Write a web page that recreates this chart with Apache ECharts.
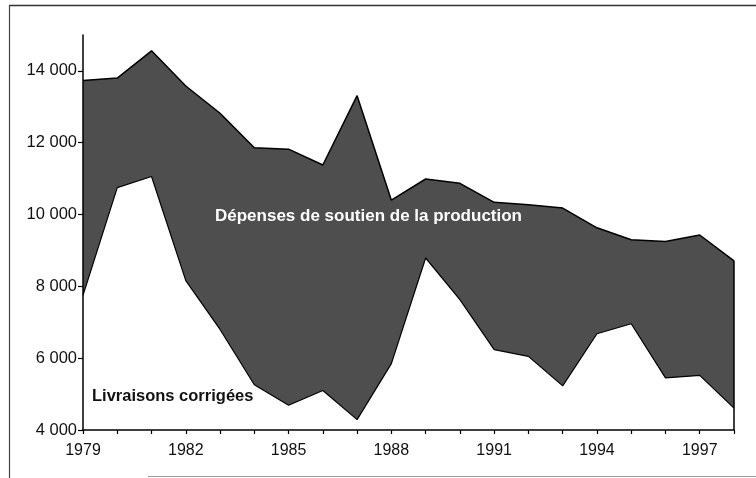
<!DOCTYPE html>
<html>
<head>
<meta charset="utf-8">
<script src="https://cdn.jsdelivr.net/npm/echarts@6/dist/echarts.min.js"></script>
<style>
  html, body { margin: 0; padding: 0; background: #fff; }
  #chart { width: 756px; height: 478px; }
</style>
</head>
<body>
<div id="chart"></div>
<script>
// Years on the horizontal axis
const years = ['1979','1980','1981','1982','1983','1984','1985','1986','1987','1988',
               '1989','1990','1991','1992','1993','1994','1995','1996','1997','1998'];

// Upper envelope: livraisons corrigées + dépenses de soutien de la production
const totalValues = [13730, 13800, 14560, 13580, 12820, 11860, 11820, 11380, 13310, 10400,
                     10990, 10870, 10340, 10270, 10180, 9630, 9300, 9250, 9430, 8710];

// Lower envelope: livraisons corrigées
const livraisons = [7750, 10750, 11060, 8160, 6800, 5260, 4690, 5100, 4290, 5850,
                    8790, 7630, 6240, 6050, 5230, 6680, 6960, 5450, 5520, 4610];

// Value-axis settings
const yMin = 4000, yMax = 15000, yStep = 2000;

const font = "'Liberation Sans', Arial, sans-serif";

const chart = echarts.init(document.getElementById('chart'), null, { renderer: 'canvas' });

const lastYear = years[years.length - 1];
const lastTotal = totalValues[totalValues.length - 1];

chart.setOption({
  animation: false,
  backgroundColor: '#ffffff',
  grid: { left: 83, right: 22, top: 35, bottom: 48 },
  xAxis: {
    type: 'category',
    data: years,
    boundaryGap: false,
    z: 10,
    axisLine: { lineStyle: { color: '#000', width: 1.5 } },
    axisTick: { show: true, interval: 0, length: 4, inside: false, lineStyle: { color: '#000', width: 1.2 } },
    axisLabel: { interval: 2, margin: 13, color: '#111', fontSize: 16, fontFamily: font },
    splitLine: { show: false }
  },
  yAxis: {
    type: 'value',
    min: yMin,
    max: yMax,
    interval: yStep,
    z: 10,
    axisLine: { show: true, lineStyle: { color: '#000', width: 1.5 } },
    axisTick: { show: true, length: 5, lineStyle: { color: '#000', width: 1.2 } },
    axisLabel: {
      margin: 6,
      color: '#111',
      fontSize: 16.5,
      fontFamily: font,
      showMaxLabel: false,
      formatter: v => v === yMax ? '' : (v >= 1000 ? Math.floor(v / 1000) + ' ' + String(v % 1000).padStart(3, '0') : String(v))
    },
    splitLine: { show: false }
  },
  series: [
    {
      name: 'Dépenses de soutien de la production',
      type: 'line',
      data: totalValues,
      symbol: 'none',
      z: 2,
      lineStyle: { color: '#000', width: 1.5 },
      areaStyle: { color: '#4e4e4e', opacity: 1, origin: 'start' },
      markLine: {
        silent: true,
        symbol: 'none',
        label: { show: false },
        lineStyle: { color: '#000', width: 1.5, type: 'solid' },
        data: [[{ coord: [lastYear, yMin] }, { coord: [lastYear, lastTotal] }]]
      }
    },
    {
      name: 'Livraisons corrigées',
      type: 'line',
      data: livraisons,
      symbol: 'none',
      z: 3,
      lineStyle: { color: '#000', width: 1.2 },
      areaStyle: { color: '#ffffff', opacity: 1, origin: 'start' }
    }
  ],
  graphic: [
    // Outer frame
    { type: 'line', z: 100, shape: { x1: 9, y1: 5.5, x2: 756, y2: 5.5 }, style: { stroke: '#333', lineWidth: 1.5 } },
    { type: 'line', z: 100, shape: { x1: 9.5, y1: 5, x2: 9.5, y2: 478 }, style: { stroke: '#444', lineWidth: 1.2 } },
    { type: 'line', z: 100, shape: { x1: 148, y1: 476.5, x2: 756, y2: 476.5 }, style: { stroke: '#999', lineWidth: 1 } },
    // Series captions
    {
      type: 'text', z: 100, left: 215, top: 208,
      style: { text: 'Dépenses de soutien de la production', fill: '#fff', font: 'bold 17px ' + font }
    },
    {
      type: 'text', z: 100, left: 92, top: 388,
      style: { text: 'Livraisons corrigées', fill: '#111', font: 'bold 16.5px ' + font }
    }
  ]
});
</script>
</body>
</html>
